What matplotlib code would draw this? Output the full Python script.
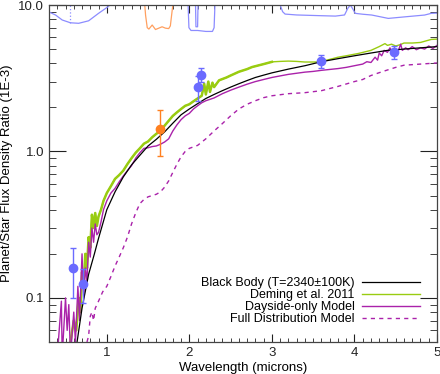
import numpy as np
import matplotlib.pyplot as plt
from matplotlib.ticker import FixedLocator, FixedFormatter, LogLocator, NullFormatter, MultipleLocator

plt.rcParams['font.family'] = ['Liberation Sans', 'DejaVu Sans']

# black body T=2340K
bb_x = [0.64, 0.70, 0.78, 0.85, 0.90, 1.00, 1.10, 1.20, 1.30, 1.40, 1.50, 1.60, 1.70, 1.80, 1.90,
        2.00, 2.10, 2.20, 2.30, 2.40, 2.50, 2.60, 2.70, 2.80, 2.90, 3.00, 3.20, 3.40, 3.60, 3.80,
        4.00, 4.20, 4.40, 4.60, 4.80, 5.00]
bb_y = [0.05, 0.085, 0.145, 0.20, 0.255, 0.40, 0.53, 0.67, 0.81, 0.94, 1.09, 1.21, 1.36, 1.56, 1.78,
        1.95, 2.12, 2.30, 2.45, 2.60, 2.75, 2.90, 3.05, 3.20, 3.32, 3.44, 3.65, 3.85, 4.10, 4.30,
        4.50, 4.70, 4.90, 5.00, 5.10, 5.20]

# Deming et al. 2011
dem_x = [0.56, 0.60, 0.63, 0.66, 0.68, 0.70, 0.72, 0.74, 0.76, 0.78, 0.80, 0.82, 0.84, 0.86, 0.88,
         0.90, 0.93, 0.96, 1.00, 1.05, 1.10, 1.15, 1.20, 1.25, 1.30, 1.35, 1.40, 1.45, 1.50, 1.55,
         1.60, 1.65, 1.70, 1.75, 1.80, 1.85, 1.90, 1.95, 2.00, 2.05, 2.10, 2.15, 2.18, 2.20, 2.23,
         2.25, 2.28, 2.30, 2.36, 2.45, 2.50, 2.60, 2.70, 2.76, 2.90, 3.00, 3.10, 3.20, 3.30, 3.40,
         3.50, 3.57, 3.70, 3.80, 3.90, 4.05, 4.20, 4.30, 4.37, 4.40, 4.45, 4.50, 4.55, 4.60, 4.70,
         4.80, 4.93, 5.00]
dem_y = [0.05, 0.07, 0.06, 0.10, 0.08, 0.15, 0.12, 0.20, 0.16, 0.26, 0.22, 0.37, 0.30, 0.38, 0.31,
         0.36, 0.40, 0.46, 0.52, 0.58, 0.65, 0.69, 0.74, 0.82, 0.90, 0.98, 1.05, 1.13, 1.17, 1.25,
         1.32, 1.38, 1.50, 1.62, 1.75, 1.85, 1.95, 2.05, 2.10, 2.20, 2.30, 2.40, 2.90, 2.45, 3.00,
         2.55, 2.95, 2.75, 3.06, 3.20, 3.30, 3.50, 3.65, 3.77, 3.95, 4.09, 4.12, 4.14, 4.12, 4.08,
         4.08, 4.09, 4.25, 4.40, 4.50, 4.67, 4.90, 5.20, 5.45, 5.30, 5.40, 5.25, 5.35, 5.50, 5.50,
         5.55, 5.82, 5.85]

# Dayside-only model
day_x = [0.40, 0.45, 0.46, 0.50, 0.52, 0.54, 0.56, 0.60, 0.62, 0.65, 0.67, 0.70, 0.72, 0.74, 0.76,
         0.78, 0.80, 0.82, 0.84, 0.86, 0.88, 0.90, 0.93, 0.96, 1.00, 1.05, 1.10, 1.15, 1.20, 1.25,
         1.30, 1.35, 1.40, 1.45, 1.50, 1.55, 1.60, 1.65, 1.70, 1.75, 1.80, 1.85, 1.90, 1.95, 2.00,
         2.05, 2.10, 2.15, 2.20, 2.30, 2.40, 2.50, 2.60, 2.70, 2.80, 2.90, 3.00, 3.10, 3.20, 3.30,
         3.40, 3.50, 3.60, 3.70, 3.80, 3.90, 4.00, 4.10, 4.15, 4.20, 4.25, 4.28, 4.30, 4.33, 4.36,
         4.40, 4.43, 4.46, 4.50, 4.53, 4.56, 4.58, 4.62, 4.65, 4.70, 4.75, 4.80, 4.85, 4.90, 4.95,
         5.00]
day_y = [0.04, 0.095, 0.04, 0.10, 0.06, 0.09, 0.04, 0.08, 0.05, 0.12, 0.07, 0.20, 0.10, 0.16, 0.13,
         0.24, 0.19, 0.30, 0.24, 0.32, 0.27, 0.28, 0.33, 0.40, 0.46, 0.52, 0.56, 0.62, 0.68, 0.74,
         0.80, 0.90, 0.98, 1.05, 1.06, 1.08, 1.09, 1.12, 1.16, 1.22, 1.38, 1.52, 1.65, 1.75, 1.82,
         1.95, 2.05, 2.15, 2.22, 2.32, 2.48, 2.62, 2.75, 2.88, 3.00, 3.10, 3.20, 3.28, 3.36, 3.42,
         3.48, 3.52, 3.58, 3.63, 3.68, 3.75, 3.85, 3.95, 4.10, 4.05, 4.40, 4.20, 4.70, 4.50, 4.90,
         4.75, 5.10, 4.80, 5.00, 4.85, 5.40, 4.90, 5.10, 4.95, 5.20, 4.95, 5.10, 5.00, 5.25, 5.05,
         5.30]

# full distribution model
full_x = [0.76, 0.78, 0.80, 0.82, 0.84, 0.86, 0.90, 0.95, 1.00, 1.05, 1.10, 1.15, 1.20, 1.25, 1.30,
          1.35, 1.40, 1.45, 1.50, 1.55, 1.60, 1.65, 1.70, 1.75, 1.80, 1.85, 1.90, 1.95, 2.00, 2.10,
          2.20, 2.30, 2.40, 2.50, 2.60, 2.70, 2.80, 2.90, 3.00, 3.20, 3.40, 3.60, 3.80, 4.00, 4.10,
          4.20, 4.30, 4.40, 4.50, 4.60, 4.80, 5.00]
full_y = [0.05, 0.055, 0.075, 0.08, 0.07, 0.085, 0.095, 0.11, 0.12, 0.14, 0.165, 0.19, 0.22, 0.26, 0.32,
          0.38, 0.44, 0.47, 0.49, 0.50, 0.51, 0.53, 0.57, 0.63, 0.72, 0.82, 0.92, 1.00, 1.05, 1.10,
          1.22, 1.38, 1.55, 1.75, 1.95, 2.10, 2.22, 2.33, 2.40, 2.48, 2.52, 2.60, 2.78, 3.00, 3.10,
          3.30, 3.45, 3.60, 3.75, 3.88, 3.95, 4.02]

# observations
obs_x = [0.59, 0.71, 2.10, 2.14, 3.59, 4.48]
obs_y = [0.16, 0.125, 2.75, 3.35, 4.13, 4.79]
obs_err = [0.06, 0.032, 0.55, 0.35, 0.40, 0.50]
h_x = [1.64]
h_y = [1.43]
h_err = [0.50]

# filter curves along the top
filt1_x = [0.30, 0.38, 0.46, 0.56, 0.66, 0.78, 0.90, 1.00, 1.04]
filt1_y = [8.96, 8.54, 7.90, 7.56, 7.50, 7.80, 8.77, 9.60, 10.0]
filtH_x = [1.46, 1.47, 1.49, 1.51, 1.55, 1.59, 1.63, 1.67, 1.71, 1.75, 1.77, 1.785, 1.80]
filtH_y = [10.0, 8.5, 7.0, 6.85, 7.3, 6.8, 6.95, 7.1, 6.95, 6.9, 7.2, 8.5, 10.0]
filtK_x = [1.985, 1.995, 2.02, 2.10, 2.20, 2.28, 2.30, 2.31]
filtK_y = [10.0, 7.0, 6.7, 6.7, 6.6, 6.6, 7.0, 10.0]
filtN_x = [2.075, 2.08, 2.10, 2.105]
filtN_y = [10.0, 7.1, 7.1, 10.0]
irac_x = [3.10, 3.13, 3.16, 3.30, 3.45, 3.60, 3.77, 3.88, 3.92, 3.95, 3.98, 4.01, 4.10, 4.21, 4.41,
          4.61, 4.85, 4.93, 5.00]
irac_y = [10.0, 9.0, 8.67, 8.55, 8.5, 8.45, 8.4, 8.55, 9.5, 10.0, 9.4, 8.77, 8.65, 8.54, 8.1,
          8.3, 8.54, 8.77, 8.8]

fig = plt.figure(figsize=(4.4, 3.74), dpi=100)
ax = fig.add_axes([49/440, 32/374, 388/440, 337/374])

blue = '#6b6bff'
fc = '#8c8cff'
ax.plot(filt1_x, filt1_y, color=fc, lw=0.9)
ax.plot([0.56, 0.56], [7.56, 10], color=fc, lw=0.9, ls=':')
ax.plot(filtH_x, filtH_y, color='#ffa060', lw=0.9)
ax.plot(filtK_x, filtK_y, color=fc, lw=0.9)
ax.plot(filtN_x, filtN_y, color=fc, lw=0.9)
ax.plot(irac_x, irac_y, color=fc, lw=0.9)

green = '#99cc11'
purple = '#aa22aa'
dem_x = np.array(dem_x)
dem_y = np.array(dem_y)
ax.plot(dem_x, dem_y, color=green, lw=1.0, label='Deming et al. 2011')
m = dem_x <= 3.0
ax.plot(dem_x[m], dem_y[m], color=green, lw=1.8)
ax.plot(day_x, day_y, color=purple, lw=1.0, label='Dayside-only Model')
ax.plot(full_x, full_y, color=purple, lw=1.0, ls=(0, (3, 3)), label='Full Distribution Model')
ax.plot(bb_x, bb_y, color='black', lw=0.9, label='Black Body (T=2340\u00b1100K)')

ax.errorbar(obs_x, obs_y, yerr=obs_err, fmt='o', color=blue, ms=6, elinewidth=1.0,
            capsize=2.5, capthick=1.0, zorder=5)
ax.errorbar(h_x, h_y, yerr=h_err, fmt='o', color='#ff8020', ms=6, elinewidth=1.0,
            capsize=2.5, capthick=1.0, zorder=5)

ax.set_yscale('log')
ax.set_xlim(0.3, 5.0)
ax.set_ylim(0.05, 10.0)
ax.yaxis.set_major_locator(FixedLocator([0.1, 1.0, 10.0]))
ax.yaxis.set_major_formatter(FixedFormatter(['0.1', '1.0', '10.0']))
ax.yaxis.set_minor_locator(LogLocator(base=10, subs=np.arange(2, 10)))
ax.yaxis.set_minor_formatter(NullFormatter())
ax.xaxis.set_major_locator(MultipleLocator(1))
ax.xaxis.set_minor_locator(MultipleLocator(0.1))
ax.tick_params(which='both', direction='in', top=True, right=True, labelsize=9.5, colors='#222222')
ax.tick_params(axis='x', which='major', length=6)
ax.tick_params(axis='x', which='minor', length=3)
ax.tick_params(axis='y', which='major', length=12)
ax.tick_params(axis='y', which='minor', length=5)
for s in ax.spines.values():
    s.set_color('#444444')
    s.set_linewidth(0.9)

ax.set_xlabel('Wavelength (microns)', fontsize=9.5, labelpad=2)
ax.set_ylabel('Planet/Star Flux Density Ratio (1E-3)', fontsize=9.5, labelpad=4)

h, l = ax.get_legend_handles_labels()
order = [3, 0, 1, 2]
leg = ax.legend([h[i] for i in order], [l[i] for i in order], loc='lower right',
                bbox_to_anchor=(0.968, 0.035), frameon=False, fontsize=9.0, markerfirst=False,
                handlelength=4.6, handletextpad=0.6, labelspacing=0.0, borderaxespad=0)
for t in leg.get_texts():
    t.set_ha('right')
leg._legend_box.align = 'right'

fig.savefig('out.png', dpi=100)
